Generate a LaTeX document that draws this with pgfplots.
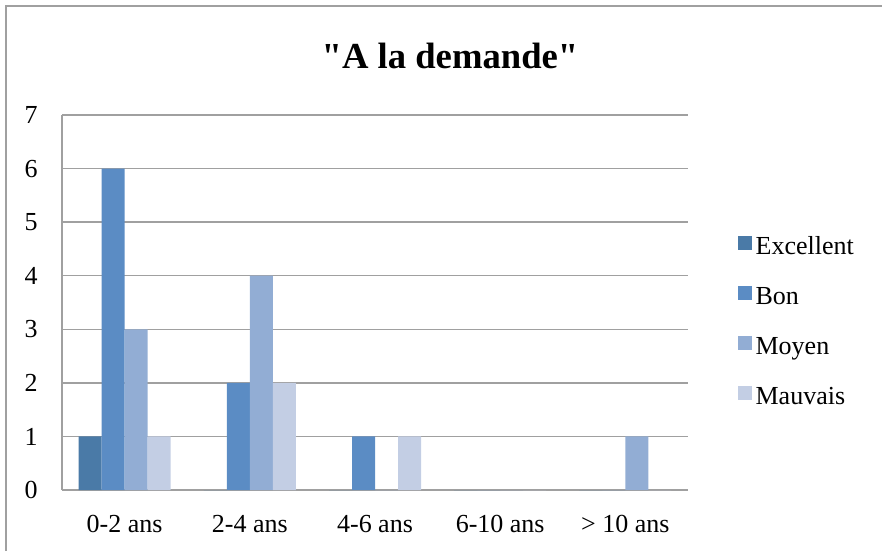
\documentclass[border=0pt]{standalone}
\usepackage{pgfplots}
\pgfplotsset{compat=1.18}
\usepackage{fontspec}
\setmainfont{Liberation Serif}
\newfontfamily\titlefont{Liberation Serif}[Ligatures=TeXOff]
\definecolor{cExc}{HTML}{4A7AA7}
\definecolor{cBon}{HTML}{5B8CC4}
\definecolor{cMoy}{HTML}{92ADD4}
\definecolor{cMau}{HTML}{C3CEE4}
\definecolor{gridgray}{HTML}{A0A0A0}
\pgfplotsset{
  sqlegend/.style={legend image code/.code={\fill[##1,draw=none] (0pt,-1.5pt) rectangle (10.5pt,9pt);}}
}
\begin{document}
\begin{tikzpicture}
\useasboundingbox (0,0) rectangle (661.5pt,413.25pt);
\draw[gridgray, line width=1.5pt] (4.5pt,0) -- (4.5pt,408.75pt) -- (661.5pt,408.75pt);
\node[anchor=base, font=\titlefont\fontsize{27.5pt}{30pt}\selectfont\bfseries] at (337.5pt,361.5pt) {"A la demande"};
\begin{axis}[
  at={(46.5pt,45.75pt)}, anchor=south west,
  scale only axis, width=469.5pt, height=281.25pt,
  ybar=0pt, bar width=17.25pt,
  xmin=-0.5, xmax=4.5, ymin=0, ymax=7,
  xtick={0,1,2,3,4},
  xticklabels={0-2 ans,2-4 ans,4-6 ans,6-10 ans,> 10 ans},
  ytick={0,1,2,3,4,5,6,7},
  axis x line*=bottom, axis y line*=left,
  axis line style={gridgray, line width=1.1pt, -},
  ymajorgrids, grid style={gridgray, line width=1.1pt},
  major tick length=0pt,
  /pgf/number format/assume math mode=true,
  tick label style={font=\fontsize{19.5pt}{22pt}\selectfont},
  yticklabel style={anchor=east, inner sep=0pt, xshift=-18pt},
  xticklabel style={anchor=north, inner sep=0pt, yshift=-18.75pt},
  legend style={draw=none, fill=none, at={(1.0735,0.685)}, anchor=north west,
    font=\fontsize{19.5pt}{22pt}\selectfont,
    nodes={inner sep=0pt, text height=14pt, text depth=4pt},
    row sep=19.5pt, column sep=2.5pt},
  legend cell align=left,
  sqlegend,
]
\addplot[fill=cExc, draw=none] coordinates {(0,1) (1,0) (2,0) (3,0) (4,0)};
\addplot[fill=cBon, draw=none] coordinates {(0,6) (1,2) (2,1) (3,0) (4,0)};
\addplot[fill=cMoy, draw=none] coordinates {(0,3) (1,4) (2,0) (3,0) (4,1)};
\addplot[fill=cMau, draw=none] coordinates {(0,1) (1,2) (2,1) (3,0) (4,0)};
\legend{Excellent,Bon,Moyen,Mauvais}
\end{axis}
\end{tikzpicture}
\end{document}
